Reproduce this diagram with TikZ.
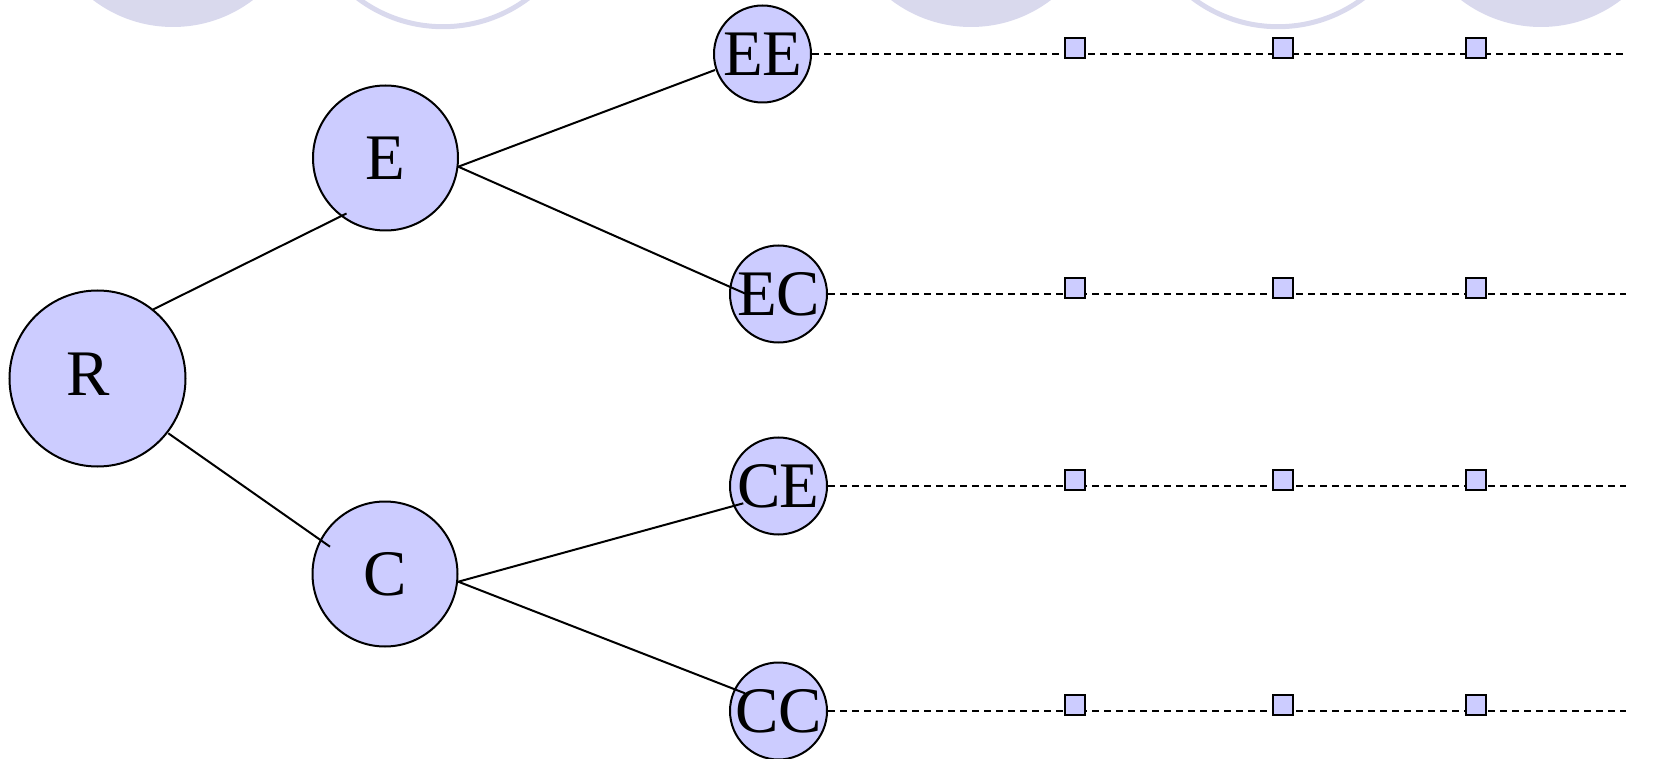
\documentclass[tikz,border=0pt]{standalone}
\usepackage{fontspec}
\setmainfont{Liberation Serif}
\usetikzlibrary{calc}
\definecolor{nodefill}{RGB}{204,204,255}
\definecolor{decor}{RGB}{217,217,237}

\begin{document}
\begin{tikzpicture}[x=0.5pt,y=-0.5pt,
  treenode/.style={circle,draw=black,line width=1pt,fill=nodefill,inner sep=0pt,
                   font=\fontsize{32.5}{32.5}\selectfont},
  bignode/.style={treenode,minimum size=88pt},
  midnode/.style={treenode,minimum size=72.5pt},
  leafnode/.style={treenode,minimum size=48.5pt},
  edge/.style={line width=1pt},
  track/.style={line width=0.85pt,dash pattern=on 3.5pt off 2.5pt},
  marker/.style={rectangle,draw=black,line width=1pt,fill=nodefill,
                 minimum size=10pt,inner sep=0pt,yshift=3pt},
  blob/.style={fill=decor},
  ring/.style={draw=decor,line width=2.5pt}]

\useasboundingbox (0,0) rectangle (1656,759);

% soft discs along the top edge
\begin{scope}
  \clip (0,0) rectangle (1656,759);
  \fill[blob] (173,-105) circle[radius=132];
  \draw[ring] (443,-115) circle[radius=141.7];
  \fill[blob] (971,-105) circle[radius=132];
  \draw[ring] (1278,-115) circle[radius=141.7];
  \fill[blob] (1541,-105) circle[radius=132];
\end{scope}

% tree nodes
\node[bignode] (R) at (97.5,378.5) {\raisebox{4pt}{R}\kern9pt};
\node[midnode] (E) at (385.5,158) {E};
\node[midnode] (C) at (385,574) {C};
\node[leafnode] (EE) at (762.5,54) {E\kern-0.5pt E};
\node[leafnode] (EC) at (778.5,294) {E\kern-0.5pt C};
\node[leafnode] (CE) at (778.5,486) {C\kern-0.5pt E};
\node[leafnode] (CC) at (778.5,711) {C\kern-0.5pt C};

% branches
\draw[edge] ($(R)+(55.5,-69)$) -- ($(E)+(-39,55.5)$);
\draw[edge] ($(R)+(70.8,54.8)$) -- ($(C)+(-55,-27.3)$);
\draw[edge] ($(E)+(72.8,8.7)$) -- ($(EE)+(-47.5,16)$);
\draw[edge] ($(E)+(72.8,8.7)$) -- ($(EC)+(-33.5,-0.5)$);
\draw[edge] ($(C)+(73.3,7.7)$) -- ($(CE)+(-35.2,17.3)$);
\draw[edge] ($(C)+(73.3,7.7)$) -- ($(CC)+(-33.5,-17.7)$);

% dotted tracks with markers
\coordinate (trackend) at (1626,0);
\coordinate (col1) at (1075,0);
\coordinate (col2) at (1283,0);
\coordinate (col3) at (1476,0);
\foreach \n in {EE,EC,CE,CC}{
  \draw[track] (\n.east) -- (\n.east -| trackend);
  \foreach \i in {1,2,3}
    \node[marker] (\n m\i) at (\n.east -| col\i) {};
}
\end{tikzpicture}
\end{document}
